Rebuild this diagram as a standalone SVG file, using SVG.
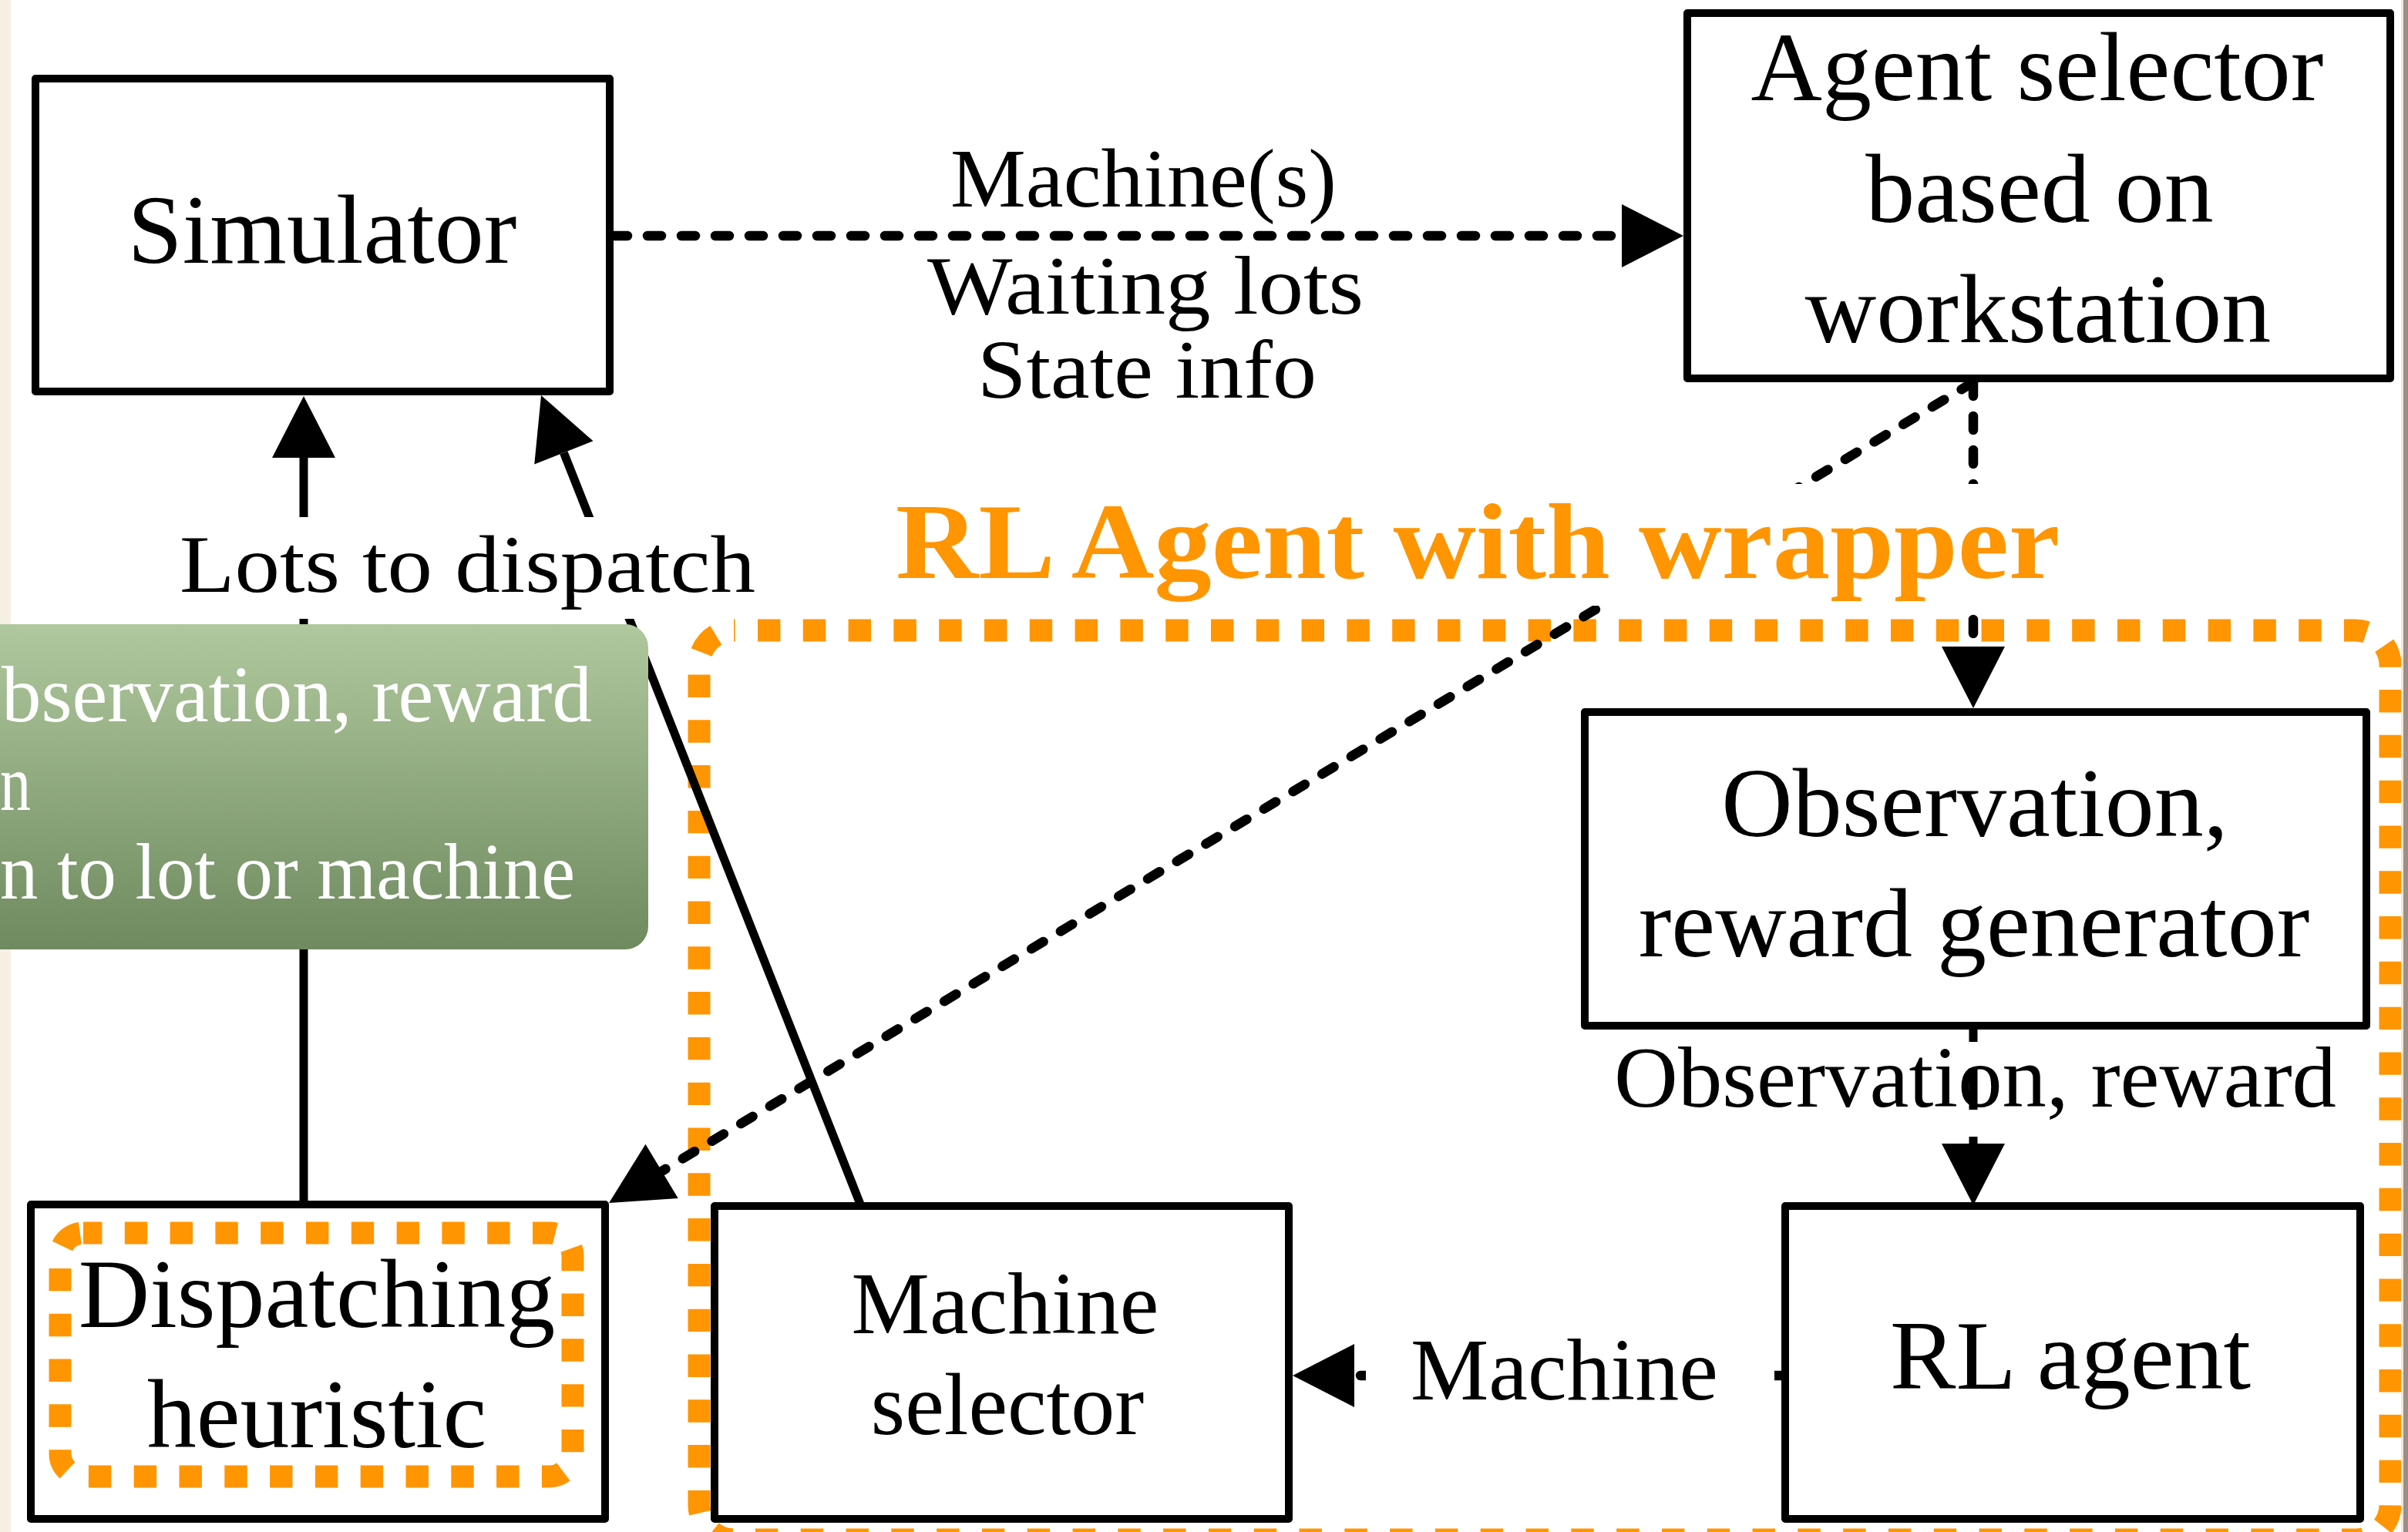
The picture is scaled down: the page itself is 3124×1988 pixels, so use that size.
<svg xmlns="http://www.w3.org/2000/svg" width="3124" height="1988" viewBox="0 0 3124 1988">
  <defs>
    <style>
      .box { fill: #ffffff; stroke: #000000; stroke-width: 10; stroke-linejoin: round; }
      .lbl { font-family: "Liberation Serif", "Times New Roman", serif; fill: #000000; }
      .big { font-size: 128px; }
      .mid { font-size: 108px; }
      .tms { font-size: 114px; }
      .dash { fill: none; stroke: #000000; stroke-width: 12.5; stroke-dasharray: 18 26; stroke-linecap: round; }
      .solid { fill: none; stroke: #000000; stroke-width: 11; }
      .frame { fill: none; stroke: #FF9500; stroke-width: 29; stroke-dasharray: 29.4 29.4; }
      .bg { fill: #ffffff; }
      .tip { font-family: "Liberation Serif", "Times New Roman", serif; font-size: 104px; fill: #ffffff; }
    </style>
    <marker id="ah" markerUnits="userSpaceOnUse" viewBox="0 0 80 82" markerWidth="80" markerHeight="82" refX="0" refY="41" orient="auto" overflow="visible">
      <path d="M0,0 L80,41 L0,82 Z" fill="#000000"/>
    </marker>
    <linearGradient id="greenFill" x1="0" y1="0" x2="0" y2="1">
      <stop offset="0" stop-color="#B0C89D"/>
      <stop offset="1" stop-color="#6F8A5F"/>
    </linearGradient>
  </defs>

  <rect x="0" y="0" width="3124" height="1988" fill="#ffffff"/>

  <!-- wrapper frame around the RL agent parts -->
  <g id="rl-wrapper">
    <rect class="frame" x="907" y="818" width="2194" height="1180" rx="45" ry="45" stroke-dashoffset="27.8"/>
  </g>

  <!-- connectors -->
  <g id="connectors">
    <path class="dash" d="M796,306 H2104" marker-end="url(#ah)"/>
    <path class="dash" d="M2560,496 V839" marker-end="url(#ah)"/>
    <path class="dash" d="M2560,496 L858.6,1519.8" marker-end="url(#ah)"/>
    <path class="solid" d="M2560,1336 V1352 M2560,1386 V1440 M2560,1475 V1484" marker-end="url(#ah)"/>
    <path class="dash" d="M2311,1785 H1757" marker-end="url(#ah)"/>
    <path class="solid" d="M394,1563 V594" marker-end="url(#ah)"/>
    <path class="solid" d="M1117,1565 L731.4,587.4" marker-end="url(#ah)"/>
  </g>

  <!-- connector labels -->
  <g id="labels">
    <text class="lbl mid" x="1233" y="268" textLength="501" lengthAdjust="spacingAndGlyphs">Machine(s)</text>
    <text class="lbl mid" x="1203" y="407" textLength="566" lengthAdjust="spacingAndGlyphs">Waiting lots</text>
    <text class="lbl mid" x="1268" y="516" textLength="440" lengthAdjust="spacingAndGlyphs">State info</text>

    <rect class="bg" x="222" y="671" width="770" height="132"/>
    <text class="lbl" x="233" y="768" font-size="106" textLength="747" lengthAdjust="spacingAndGlyphs">Lots to dispatch</text>

    <rect class="bg" x="1150" y="628" width="1540" height="158"/>
    <text x="1162" y="750" font-family="'Liberation Serif', 'Times New Roman', serif" font-weight="bold" font-size="139" fill="#FF9500" textLength="1510" lengthAdjust="spacingAndGlyphs">RL Agent with wrapper</text>

    <text class="lbl" x="2094" y="1436" font-size="112" textLength="937" lengthAdjust="spacingAndGlyphs">Observation, reward</text>

    <rect class="bg" x="1772" y="1745" width="530" height="85"/>
    <text class="lbl tms" x="1830" y="1816">Machine</text>
  </g>

  <!-- nodes -->
  <g id="simulator">
    <rect class="box" x="46" y="102" width="745" height="406"/>
    <text class="lbl big" x="418" y="341" text-anchor="middle">Simulator</text>
  </g>

  <g id="agent-selector">
    <rect class="box" x="2189" y="17" width="912" height="474"/>
    <text class="lbl big" x="2643" y="130" text-anchor="middle">Agent selector</text>
    <text class="lbl big" x="2646" y="288" text-anchor="middle">based on</text>
    <text class="lbl big" x="2644" y="444" text-anchor="middle">workstation</text>
  </g>

  <g id="observation-generator">
    <rect class="box" x="2056" y="924" width="1014" height="407"/>
    <text class="lbl big" x="2562" y="1085" text-anchor="middle">Observation,</text>
    <text class="lbl big" x="2561" y="1241" text-anchor="middle">reward generator</text>
  </g>

  <g id="rl-agent">
    <rect class="box" x="2316" y="1565" width="746" height="406"/>
    <text class="lbl big" x="2686" y="1802" text-anchor="middle">RL agent</text>
  </g>

  <g id="machine-selector">
    <rect class="box" x="927" y="1565" width="745" height="406"/>
    <text class="lbl tms" x="1304" y="1730" text-anchor="middle">Machine</text>
    <text class="lbl tms" x="1307" y="1861" text-anchor="middle">selector</text>
  </g>

  <g id="dispatching-heuristic">
    <rect class="box" x="40" y="1563" width="745" height="408"/>
    <rect class="frame" x="78" y="1600" width="665" height="316" rx="30" ry="30" stroke-dashoffset="5"/>
    <text class="lbl big" x="411" y="1722" text-anchor="middle">Dispatching</text>
    <text class="lbl big" x="411" y="1878" text-anchor="middle">heuristic</text>
  </g>

  <!-- page edges -->
  <rect x="0" y="0" width="14" height="1988" fill="#F6EFE4"/>
  <rect x="3115" y="0" width="3" height="1988" fill="#F3E6D6"/>
  <rect x="3118" y="0" width="6" height="1988" fill="#9C8E86"/>

  <!-- hover note laid over the page, its left part runs past the page edge -->
  <g id="hover-note">
    <rect x="-40" y="810" width="881" height="422" rx="30" ry="30" fill="url(#greenFill)"/>
    <text class="tip" x="2" y="936" textLength="766" lengthAdjust="spacingAndGlyphs">bservation, reward</text>
    <text class="tip" x="0" y="1051" textLength="40" lengthAdjust="spacingAndGlyphs">n</text>
    <text class="tip" x="0" y="1166" textLength="746" lengthAdjust="spacingAndGlyphs">n to lot or machine</text>
  </g>
</svg>
